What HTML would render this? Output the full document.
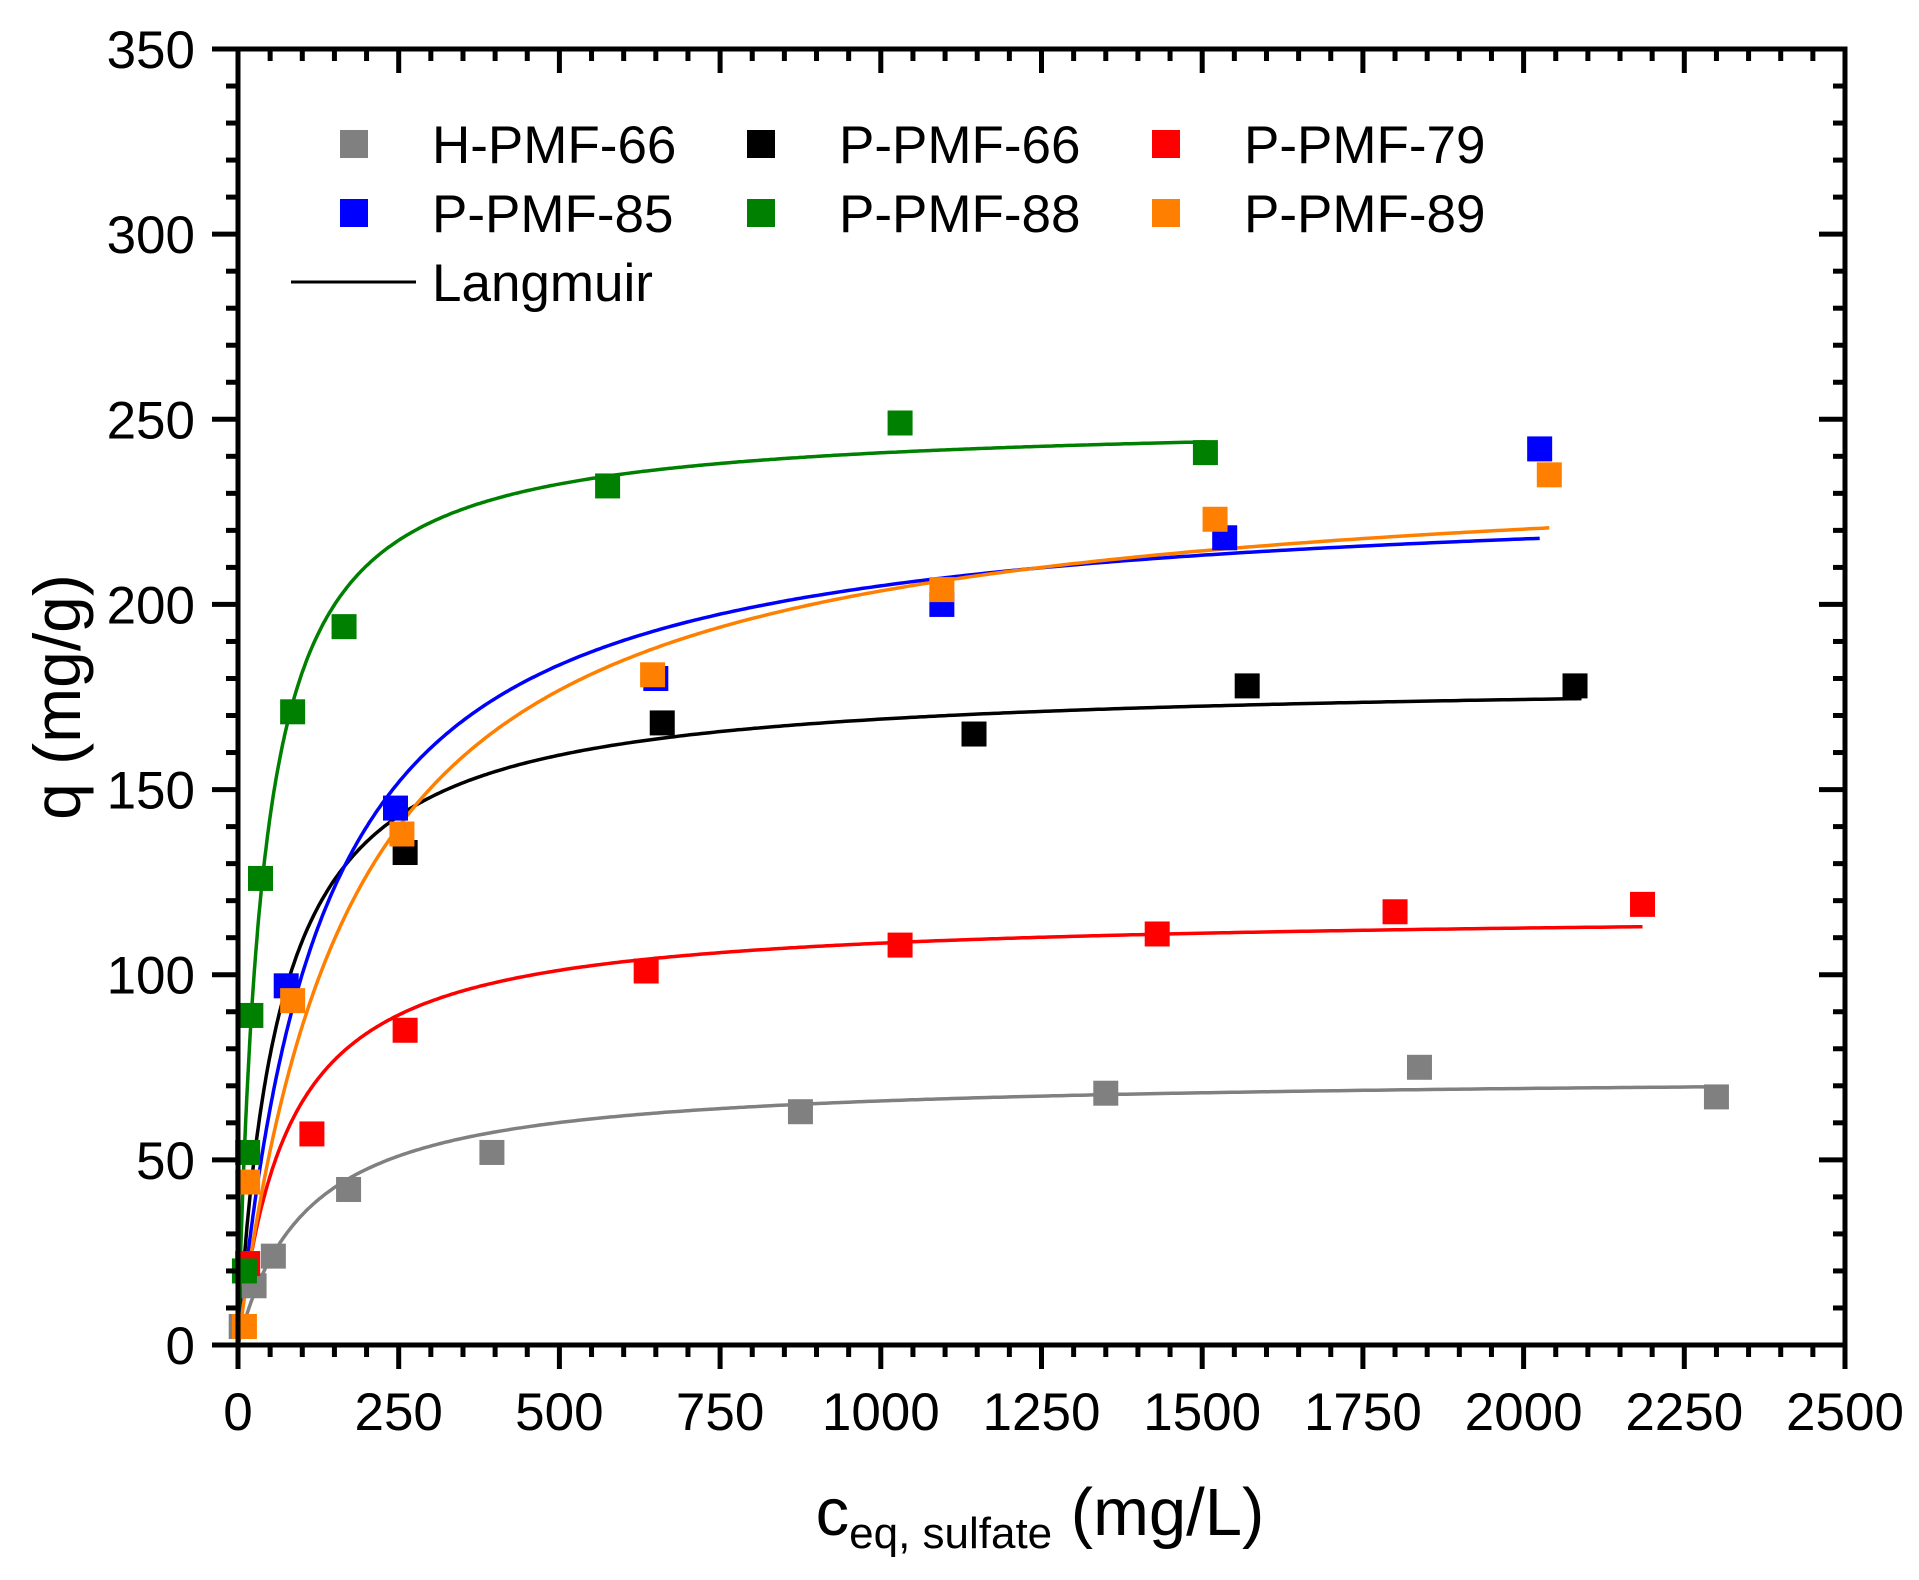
<!DOCTYPE html>
<html><head><meta charset="utf-8"><style>
body{margin:0;background:#fff}
svg{display:block;font-family:"Liberation Sans",Arial,sans-serif}
</style></head><body>
<svg id="s" width="1919" height="1580" viewBox="0 0 1919 1580" xmlns="http://www.w3.org/2000/svg">
<rect width="1919" height="1580" fill="#fff"/>
<g id="g"></g>
</svg>
<script>
var X0=238,X1=1845,Y0=1345,Y1=49;
function px(c){return X0+(X1-X0)*c/2500}
function py(q){return Y0-(Y0-Y1)*q/350}
var h='';
var curves=[["#808080",73,0.0093,2300],["#000",180,0.0154,2090],["#ff0000",117,0.0128,2185],["#0000ff",232,0.0076,2025],["#ff8000",240,0.0056,2040],["#008000",250,0.0266,1505]];
curves.forEach(function(c){var d='';for(var i=0;i<=400;i++){var x=c[3]*Math.pow(i/400,2);var q=c[1]*c[2]*x/(1+c[2]*x);d+=(i?'L':'M')+px(x).toFixed(1)+','+py(q).toFixed(1);}h+='<path d="'+d+'" fill="none" stroke="'+c[0]+'" stroke-width="3.5"/>';});
var data=[["#808080",[[5,5],[25,16],[55,24],[172,42],[395,52],[875,63],[1350,68],[1838,75],[2300,67]]],
["#000",[[260,133],[660,168],[1145,165],[1570,178],[2080,178]]],
["#ff0000",[[15,22],[115,57],[260,85],[635,101],[1030,108],[1430,111],[1800,117],[2185,119]]],
["#0000ff",[[75,97],[245,145],[650,180],[1095,200],[1535,218],[2025,242]]],
["#008000",[[10,20],[15,52],[20,89],[35,126],[85,171],[165,194],[575,232],[1030,249],[1505,241]]],
["#ff8000",[[10,5],[15,44],[85,93],[255,138],[645,181],[1095,204],[1520,223],[2040,235]]]];
var m=25;
data.forEach(function(s){s[1].forEach(function(p){h+='<rect x="'+(px(p[0])-m/2)+'" y="'+(py(p[1])-m/2)+'" width="'+m+'" height="'+m+'" fill="'+s[0]+'"/>';});});
h+='<rect x="'+X0+'" y="'+Y1+'" width="'+(X1-X0)+'" height="'+(Y0-Y1)+'" fill="none" stroke="#000" stroke-width="5"/>';
for(var v=0;v<=2500;v+=50){var x=px(v),maj=v%250==0;var L=maj?24:12;
h+='<line x1="'+x+'" y1="'+Y0+'" x2="'+x+'" y2="'+(Y0+L)+'" stroke="#000" stroke-width="5"/>';
h+='<line x1="'+x+'" y1="'+Y1+'" x2="'+x+'" y2="'+(Y1+L)+'" stroke="#000" stroke-width="5"/>';
if(maj)h+='<text x="'+x+'" y="1430" font-size="53" text-anchor="middle">'+v+'</text>';}
for(var v=0;v<=350;v+=10){var y=py(v),maj=v%50==0;var L=maj?26:12;
h+='<line x1="'+(X0-L)+'" y1="'+y+'" x2="'+X0+'" y2="'+y+'" stroke="#000" stroke-width="5"/>';
h+='<line x1="'+(X1-L)+'" y1="'+y+'" x2="'+X1+'" y2="'+y+'" stroke="#000" stroke-width="5"/>';
if(maj)h+='<text x="195" y="'+(y+19)+'" font-size="53" text-anchor="end">'+v+'</text>';}
var leg=[["#808080","H-PMF-66",354,144],["#000","P-PMF-66",761,144],["#ff0000","P-PMF-79",1166,144],["#0000ff","P-PMF-85",354,213],["#008000","P-PMF-88",761,213],["#ff8000","P-PMF-89",1166,213]];
leg.forEach(function(l){h+='<rect x="'+(l[2]-14)+'" y="'+(l[3]-14)+'" width="28" height="28" fill="'+l[0]+'"/><text x="'+(l[2]+78)+'" y="'+(l[3]+19)+'" font-size="53">'+l[1]+'</text>';});
h+='<line x1="291" y1="282" x2="416" y2="282" stroke="#000" stroke-width="3"/><text x="432" y="301" font-size="53">Langmuir</text>';
h+='<text x="1040" y="1535" font-size="67" text-anchor="middle">c<tspan font-size="44" dy="13">eq, sulfate</tspan><tspan dy="-13"> (mg/L)</tspan></text>';
h+='<text transform="translate(80,697) rotate(-90)" font-size="66" text-anchor="middle">q (mg/g)</text>';
document.getElementById('g').innerHTML=h;
</script>
</body></html>
